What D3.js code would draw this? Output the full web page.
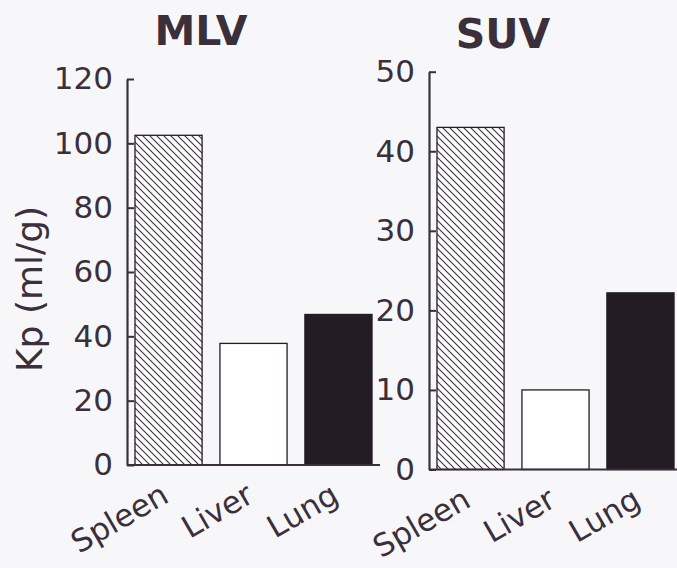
<!DOCTYPE html>
<html>
<head>
<meta charset="utf-8">
<script src="https://cdn.jsdelivr.net/npm/d3@7"></script>
<style>
  html, body { margin: 0; padding: 0; background: #f7f7f9; }
  svg text { font-family: "DejaVu Sans", sans-serif; fill: #3a2f3a; }
</style>
</head>
<body>
<div id="chart"></div>
<script>
// Kp values by tissue, two liposome types
const tissues = ['Spleen', 'Liver', 'Lung'];
const mlvValues = [102.5, 37.8, 46.8];
const suvValues = [43, 10, 22.2];
const mlvTicks = [0, 20, 40, 60, 80, 100, 120];
const suvTicks = [0, 10, 20, 30, 40, 50];

const ink = '#3a2f3a';
const barInk = '#241c24';
const fills = ['url(#hatch)', '#ffffff', barInk];

const width = 677;
const height = 568;

const svg = d3.select('#chart')
    .append('svg')
    .attr('width', width)
    .attr('height', height);

svg.append('rect')
    .attr('width', width)
    .attr('height', height)
    .attr('fill', '#f7f7f9');

// diagonal hatch for spleen bars
const defs = svg.append('defs');
const hatch = defs.append('pattern')
    .attr('id', 'hatch')
    .attr('patternUnits', 'userSpaceOnUse')
    .attr('width', 7)
    .attr('height', 7);
hatch.append('rect')
    .attr('width', 7)
    .attr('height', 7)
    .attr('fill', '#ffffff');
hatch.append('path')
    .attr('d', 'M-1,-1 L8,8 M-1,6 L1,8 M6,-1 L8,1')
    .attr('stroke', ink)
    .attr('stroke-width', 1.1);

const panels = [
    { title: 'MLV', values: mlvValues, ticks: mlvTicks, max: 120,
      axisX: 127, y0: 465, y1: 79, titleX: 201, titleY: 45 },
    { title: 'SUV', values: suvValues, ticks: suvTicks, max: 50,
      axisX: 429, y0: 469.5, y1: 71.7, titleX: 503, titleY: 48 }
];

panels.forEach(p => {
    const g = svg.append('g');

    const y = d3.scaleLinear()
        .domain([0, p.max])
        .range([p.y0, p.y1]);

    const x = d3.scaleBand()
        .domain(tissues)
        .range([p.axisX, p.axisX + 253])
        .paddingInner(0.21)
        .paddingOuter(0.094);

    // Bars
    g.selectAll('.bar')
        .data(tissues)
        .enter()
        .append('rect')
        .attr('class', 'bar')
        .attr('x', d => x(d))
        .attr('y', (d, i) => y(p.values[i]))
        .attr('width', x.bandwidth())
        .attr('height', (d, i) => y(0) - y(p.values[i]))
        .attr('fill', (d, i) => fills[i])
        .attr('stroke', barInk)
        .attr('stroke-width', 1.3);

    // Y axis, ticks pointing inward
    const yAxis = g.append('g')
        .attr('transform', `translate(${p.axisX},0)`)
        .call(d3.axisLeft(y)
            .tickValues(p.ticks)
            .tickSizeInner(-7)
            .tickSizeOuter(0)
            .tickPadding(14)
        );
    yAxis.select('.domain')
        .attr('stroke', ink)
        .attr('stroke-width', 2.2);
    yAxis.selectAll('.tick line')
        .attr('stroke', ink)
        .attr('stroke-width', 2);
    yAxis.selectAll('.tick text')
        .attr('fill', ink)
        .style('font-size', '31px');
    yAxis.attr('font-family', null).attr('font-size', null);

    // Baseline
    g.append('line')
        .attr('x1', p.axisX)
        .attr('x2', x.range()[1])
        .attr('y1', y(0))
        .attr('y2', y(0))
        .attr('stroke', ink)
        .attr('stroke-width', 2.2);

    // Category labels
    g.selectAll('.cat')
        .data(tissues)
        .enter()
        .append('text')
        .attr('class', 'cat')
        .attr('transform', d => `translate(${x(d) + x.bandwidth() / 2 + 2},${y(0) + 36}) rotate(-30)`)
        .style('text-anchor', 'end')
        .style('font-size', '31px')
        .text(d => d);

    // Title
    g.append('text')
        .attr('x', p.titleX)
        .attr('y', p.titleY)
        .style('text-anchor', 'middle')
        .style('font-size', '41px')
        .style('font-weight', '700')
        .text(p.title);
});

// Y axis title
svg.append('text')
    .attr('transform', 'translate(42,289) rotate(-90)')
    .style('text-anchor', 'middle')
    .style('font-size', '36px')
    .text('Kp (ml/g)');
</script>
</body>
</html>
